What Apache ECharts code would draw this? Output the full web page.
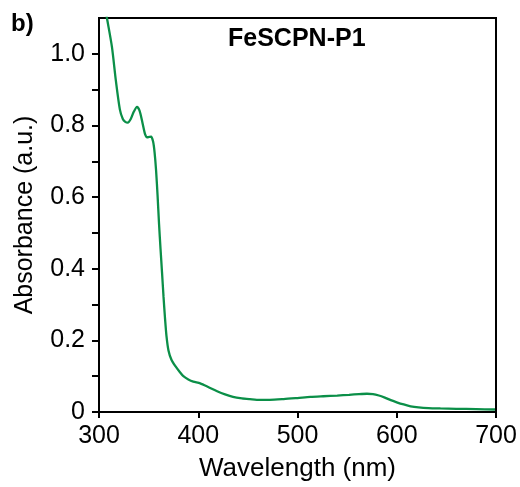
<!DOCTYPE html>
<html>
<head>
<meta charset="utf-8">
<script src="https://cdn.jsdelivr.net/npm/echarts@6/dist/echarts.min.js"></script>
<style>html,body{margin:0;padding:0;background:#fff}#c{width:520px;height:487px}</style>
</head>
<body>
<div id="c"></div>
<script>
const wavelength = [302, 305, 308, 313, 317, 321, 324, 326.5, 329, 332, 335, 338.3, 341, 344, 346.5, 348.5, 350.5, 352.5, 354.5, 356, 357.5, 359, 360.5, 362, 363.5, 365, 366.5, 368, 370, 373, 377, 381, 385, 390, 395, 402, 410, 419, 427, 435, 444, 452, 462, 472, 486, 500, 513, 526, 540, 552, 562, 570, 576, 582, 588, 594, 600, 607, 614, 622, 632, 644, 660, 680, 699];
const absorbance = [1.20, 1.15, 1.10, 1.02, 0.925, 0.845, 0.818, 0.810, 0.808, 0.818, 0.838, 0.852, 0.840, 0.805, 0.775, 0.767, 0.768, 0.769, 0.755, 0.725, 0.675, 0.605, 0.525, 0.455, 0.390, 0.322, 0.262, 0.212, 0.172, 0.146, 0.128, 0.113, 0.100, 0.091, 0.085, 0.080, 0.070, 0.058, 0.049, 0.042, 0.038, 0.036, 0.034, 0.034, 0.036, 0.039, 0.042, 0.044, 0.046, 0.048, 0.050, 0.051, 0.050, 0.046, 0.040, 0.033, 0.027, 0.021, 0.016, 0.013, 0.011, 0.010, 0.009, 0.008, 0.007];
const xTicks = [300, 400, 500, 600, 700];
const yLabels = [0, 0.2, 0.4, 0.6, 0.8, 1.0];
const yTicks = [0, 0.1, 0.2, 0.3, 0.4, 0.5, 0.6, 0.7, 0.8, 0.9, 1.0];
const panelLabel = 'b)';
const sampleName = 'FeSCPN-P1';

const chart = echarts.init(document.getElementById('c'), null, {renderer: 'canvas'});
const font = 'Liberation Sans, Arial, sans-serif';
chart.setOption({
  animation: false,
  backgroundColor: '#fff',
  graphic: [
    {type: 'text', left: 11, top: 12, style: {text: panelLabel, font: 'bold 24px Liberation Sans, Arial, sans-serif', fill: '#000'}},
    {type: 'text', left: 228, top: 27, style: {text: sampleName, font: 'bold 25px Liberation Sans, Arial, sans-serif', fill: '#000'}}
  ],
  grid: {left: 99, right: 24, top: 18, bottom: 73, show: true, borderColor: '#000', borderWidth: 2, containLabel: false},
  xAxis: {
    type: 'value', min: 300, max: 700, interval: 100,
    name: 'Wavelength (nm)', nameLocation: 'middle', nameGap: 44,
    nameTextStyle: {fontFamily: font, fontSize: 26, color: '#000'},
    axisLine: {show: true, lineStyle: {color: '#000', width: 2}},
    axisTick: {show: true, inside: false, length: 6, lineStyle: {color: '#000', width: 2}, customValues: xTicks},
    axisLabel: {fontFamily: font, fontSize: 25, color: '#000', margin: 12, customValues: xTicks},
    splitLine: {show: false}
  },
  yAxis: {
    type: 'value', min: 0, max: 1.1,
    name: 'Absorbance (a.u.)', nameLocation: 'middle', nameGap: 61,
    nameTextStyle: {fontFamily: font, fontSize: 25, color: '#000'},
    axisLine: {show: true, lineStyle: {color: '#000', width: 2}},
    axisTick: {show: true, inside: false, length: 7, lineStyle: {color: '#000', width: 2}, customValues: yTicks},
    axisLabel: {fontFamily: font, fontSize: 25, color: '#000', margin: 14, customValues: yLabels,
      formatter: v => v === 0 ? '0' : v.toFixed(1)},
    splitLine: {show: false}
  },
  series: [{
    type: 'line', data: wavelength.map((w, i) => [w, absorbance[i]]),
    showSymbol: false, smooth: 0.25, clip: true,
    lineStyle: {color: '#0b8f48', width: 2.3}
  }]
});
</script>
</body>
</html>
